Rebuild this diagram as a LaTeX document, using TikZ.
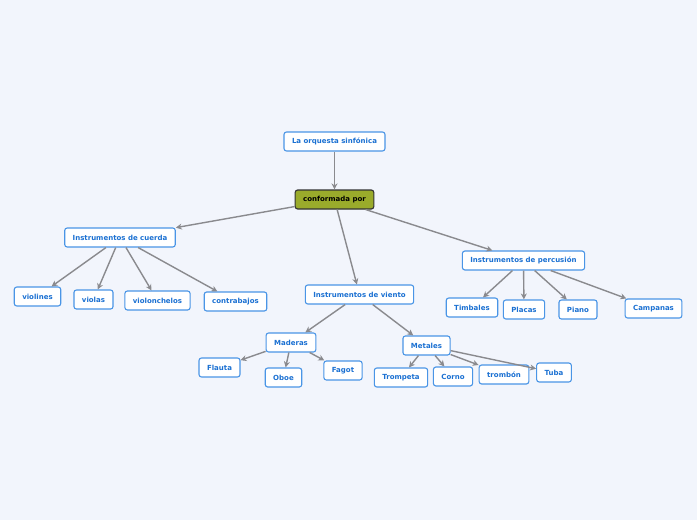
\documentclass[tikz,border=0pt]{standalone}
\usepackage{fontspec}
\setmainfont{DejaVu Sans}
\usetikzlibrary{arrows.meta}
\definecolor{fondo}{HTML}{F2F5FC}
\definecolor{azul}{HTML}{4A95E6}
\definecolor{texto}{HTML}{1A70D2}
\definecolor{oliva}{HTML}{9AAB2B}
\definecolor{gris}{HTML}{8A8A8E}
\tikzset{
  caja/.style={draw=azul, fill=white, line width=1.1pt, rounded corners=2.5pt,
    minimum height=19pt, inner xsep=8pt, inner ysep=0pt,
    font=\fontsize{7}{8}\selectfont\bfseries, text=texto},
  raiz/.style={caja, draw=black!80, fill=oliva, text=black},
  link/.style={draw=gris, line width=1.4pt, -{Stealth[length=6pt,width=6pt]}}
}
\begin{document}
\begin{tikzpicture}[x=1pt, y=-1pt]
    \fill[fondo] (0,0) rectangle (697,520);
    \useasboundingbox (0,0) rectangle (697,520);
    % nivel superior
    \node[caja] (orquesta) at (334.5,141.5) {La orquesta sinfónica};
    \node[raiz] (conformada) at (334.5,199.5) {conformada por};
    % grupos
    \node[caja] (cuerda) at (120,237.5) {Instrumentos de cuerda};
    \node[caja] (viento) at (359.5,294.5) {Instrumentos de viento};
    \node[caja] (percusion) at (523.5,260.5) {Instrumentos de percusión};
    % cuerda
    \node[caja] (violines) at (37.5,296.5) {violines};
    \node[caja] (violas) at (93.5,299.5) {violas};
    \node[caja] (chelos) at (157.5,300.5) {violonchelos};
    \node[caja] (contrabajos) at (235.5,301.5) {contrabajos};
    % viento
    \node[caja] (maderas) at (291,342.5) {Maderas};
    \node[caja] (metales) at (426.5,345.5) {Metales};
    \node[caja] (flauta) at (219.5,367.5) {Flauta};
    \node[caja] (oboe) at (283.5,377.5) {Oboe};
    \node[caja] (fagot) at (343,370.5) {Fagot};
    \node[caja] (trompeta) at (401,377.5) {Trompeta};
    \node[caja] (corno) at (453,376.5) {Corno};
    \node[caja] (trombon) at (504,374.5) {trombón};
    \node[caja] (tuba) at (554,372.5) {Tuba};
    % percusion
    \node[caja] (timbales) at (472,307.5) {Timbales};
    \node[caja] (placas) at (524,309.5) {Placas};
    \node[caja] (piano) at (578,309.5) {Piano};
    \node[caja] (campanas) at (653.5,308.5) {Campanas};
    % conectores
    \draw[link] (orquesta) -- (conformada);
    \foreach \g in {cuerda,viento,percusion} {
      \draw[link] (conformada) -- (\g);
    }
    \foreach \c in {violines,violas,chelos,contrabajos} {
      \draw[link] (cuerda) -- (\c);
    }
    \foreach \c in {maderas,metales} {
      \draw[link] (viento) -- (\c);
    }
    \foreach \c in {flauta,oboe,fagot} {
      \draw[link] (maderas) -- (\c);
    }
    \foreach \c in {tuba,trompeta,corno,trombon} {
      \draw[link] (metales) -- (\c);
    }
    \foreach \c in {timbales,placas,piano,campanas} {
      \draw[link] (percusion) -- (\c);
    }
\end{tikzpicture}
\end{document}
